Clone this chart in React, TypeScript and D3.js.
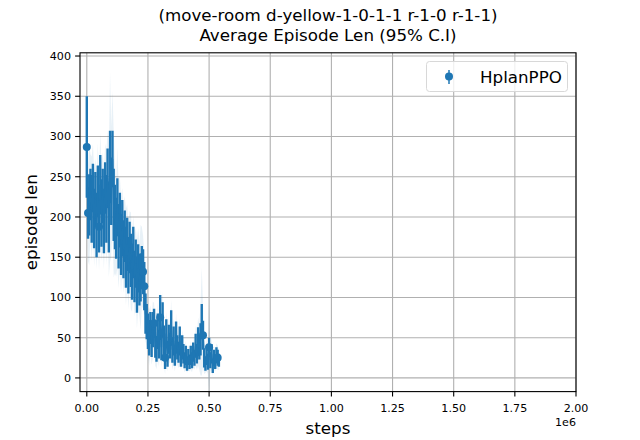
import React from "react";
import * as d3 from "d3";

const steps = [
  0, 5000, 10000, 15000, 20000, 25000, 30000, 35000, 40000, 45000,
  50000, 55000, 60000, 65000, 70000, 75000, 80000, 85000, 90000, 95000,
  100000, 105000, 110000, 115000, 120000, 125000, 130000, 135000, 140000, 145000,
  150000, 155000, 160000, 165000, 170000, 175000, 180000, 185000, 190000, 195000,
  200000, 205000, 210000, 215000, 220000, 225000, 230000, 235000, 240000, 245000,
  250000, 255000, 260000, 265000, 270000, 275000, 280000, 285000, 290000, 295000,
  300000, 305000, 310000, 315000, 320000, 325000, 330000, 335000, 340000, 345000,
  350000, 355000, 360000, 365000, 370000, 375000, 380000, 385000, 390000, 395000,
  400000, 405000, 410000, 415000, 420000, 425000, 430000, 435000, 440000, 445000,
  450000, 455000, 460000, 465000, 470000, 475000, 480000, 485000, 490000, 495000,
  500000, 505000, 510000, 515000, 520000, 525000, 530000, 535000, 540000,
];

const meanLen = [
  287, 205, 215, 228, 210, 236, 198, 222, 190, 232,
  188, 240, 205, 226, 195, 236, 210, 248, 200, 262,
  232, 272, 215, 200, 186, 212, 176, 196, 166, 186,
  160, 176, 150, 166, 140, 162, 146, 132, 156, 126,
  142, 116, 136, 122, 125, 138, 132, 114, 80, 70,
  58, 50, 62, 46, 60, 68, 45, 36, 58, 42,
  75, 38, 72, 45, 25, 55, 30, 48, 40, 62,
  35, 46, 28, 50, 38, 32, 46, 25, 38, 30,
  22, 28, 18, 26, 20, 28, 22, 32, 25, 40,
  30, 45, 38, 48, 70, 53, 25, 18, 28, 20,
  38, 22, 30, 15, 25, 20, 28, 25, 22,
];

const errLen = [
  63, 32, 38, 32, 42, 30, 37, 34, 40, 32,
  32, 37, 42, 34, 40, 32, 42, 37, 44, 45,
  42, 35, 45, 40, 38, 36, 40, 34, 38, 35,
  36, 32, 38, 33, 35, 32, 33, 35, 32, 32,
  30, 35, 30, 32, 30, 26, 28, 30, 25, 22,
  22, 22, 20, 20, 22, 18, 20, 16, 22, 18,
  28, 16, 22, 20, 14, 18, 16, 18, 16, 22,
  16, 18, 13, 20, 15, 13, 18, 11, 15, 12,
  10, 12, 9, 10, 9, 12, 10, 12, 10, 15,
  12, 18, 15, 20, 22, 18, 12, 9, 12, 10,
  12, 10, 12, 9, 10, 9, 10, 10, 8,
];

const bandLen = [
  70, 60, 75, 50, 65, 55, 60, 50, 55, 60,
  55, 65, 60, 55, 60, 55, 70, 60, 75, 118,
  80, 85, 90, 70, 60, 75, 65, 55, 60, 50,
  55, 50, 60, 50, 55, 45, 60, 50, 45, 50,
  45, 55, 50, 45, 65, 50, 45, 40, 35, 30,
  30, 35, 28, 30, 35, 25, 30, 25, 35, 28,
  35, 25, 35, 30, 20, 28, 22, 28, 22, 35,
  25, 28, 20, 30, 22, 20, 28, 15, 22, 18,
  15, 18, 12, 15, 12, 18, 15, 18, 15, 25,
  20, 30, 28, 45, 67, 40, 20, 12, 20, 15,
  60, 15, 20, 12, 15, 12, 15, 15, 12,
];

const markerIdx = [0, 1, 10, 46, 47, 55, 60, 64, 95, 100, 107];

const xTicks = [0, 250000, 500000, 750000, 1000000, 1250000, 1500000, 1750000, 2000000];
const xTickLabels = ["0.00", "0.25", "0.50", "0.75", "1.00", "1.25", "1.50", "1.75", "2.00"];
const yTicks = [0, 50, 100, 150, 200, 250, 300, 350, 400];

const titleLines = ["(move-room d-yellow-1-0-1-1 r-1-0 r-1-1)", "Average Episode Len (95% C.I)"];
const seriesName = "HplanPPO";

const W = 640;
const H = 440;
const M = { left: 80, right: 576, top: 52.8, bottom: 391.6 };
const BLUE = "#1f77b4";
const FONT = "DejaVu Sans, sans-serif";

export default function App() {
  const x = d3.scaleLinear().domain([-27800, 2000000]).range([M.left, M.right]);
  const y = d3.scaleLinear().domain([-17, 404]).range([M.bottom, M.top]);

  const pts = steps.map((s, i) => ({ s, m: meanLen[i], e: errLen[i], b: bandLen[i] }));

  const area = d3
    .area<{ s: number; m: number; b: number }>()
    .x((d) => x(d.s))
    .y0((d) => y(d.m - d.b))
    .y1((d) => y(d.m + d.b));
  const line = d3
    .line<{ s: number; m: number }>()
    .x((d) => x(d.s))
    .y((d) => y(d.m));

  return (
    <svg width={W} height={H} style={{ position: "absolute", left: 0, top: 0, background: "#fff" }} fontFamily={FONT}>
      <rect x={0} y={0} width={W} height={H} fill="#fff" />
      <defs>
        <clipPath id="plotclip">
          <rect x={M.left} y={M.top} width={M.right - M.left} height={M.bottom - M.top} />
        </clipPath>
      </defs>
      {xTicks.map((t) => (
        <line key={"gx" + t} x1={x(t)} x2={x(t)} y1={M.top} y2={M.bottom} stroke="#b0b0b0" strokeWidth={1.1} />
      ))}
      {yTicks.map((t) => (
        <line key={"gy" + t} x1={M.left} x2={M.right} y1={y(t)} y2={y(t)} stroke="#b0b0b0" strokeWidth={1.1} />
      ))}
      <g clipPath="url(#plotclip)">
        <path d={area(pts) || ""} fill={BLUE} fillOpacity={0.1} stroke="none" />
        {pts.map((d, i) => (
          <line key={"e" + i} x1={x(d.s)} x2={x(d.s)} y1={y(d.m - d.e)} y2={y(d.m + d.e)} stroke={BLUE} strokeWidth={2.4} />
        ))}
        <path d={line(pts) || ""} fill="none" stroke={BLUE} strokeWidth={1.5} />
        {markerIdx.map((i) => (
          <circle key={"mk" + i} cx={x(steps[i])} cy={y(meanLen[i])} r={4} fill={BLUE} />
        ))}
      </g>
      <rect x={M.left} y={M.top} width={M.right - M.left} height={M.bottom - M.top} fill="none" stroke="#000" strokeWidth={1.1} />
      {xTicks.map((t, i) => (
        <g key={"xt" + t}>
          <line x1={x(t)} x2={x(t)} y1={M.bottom} y2={M.bottom + 4.9} stroke="#000" strokeWidth={1.1} />
          <text x={x(t)} y={M.bottom + 20} textAnchor="middle" fontSize={11.1} fill="#000">
            {xTickLabels[i]}
          </text>
        </g>
      ))}
      {yTicks.map((t) => (
        <g key={"yt" + t}>
          <line x1={M.left - 4.9} x2={M.left} y1={y(t)} y2={y(t)} stroke="#000" strokeWidth={1.1} />
          <text x={M.left - 9} y={y(t)} dy="0.35em" textAnchor="end" fontSize={11.1} fill="#000">
            {t}
          </text>
        </g>
      ))}
      <text x={M.right} y={426} textAnchor="end" fontSize={11.1} fill="#000">1e6</text>
      <text x={(M.left + M.right) / 2} y={434} textAnchor="middle" fontSize={16.7} fill="#000">steps</text>
      <text
        transform={`translate(37, ${(M.top + M.bottom) / 2}) rotate(-90)`}
        textAnchor="middle"
        fontSize={16.7}
        fill="#000"
      >
        episode len
      </text>
      <text x={(M.left + M.right) / 2} y={21} textAnchor="middle" fontSize={16.7} fill="#000">{titleLines[0]}</text>
      <text x={(M.left + M.right) / 2} y={40.5} textAnchor="middle" fontSize={16.7} fill="#000">{titleLines[1]}</text>
      <g>
        <rect x={426.5} y={61.5} width={141} height={30} rx={3} fill="#fff" fillOpacity={0.8} stroke="#d8d8d8" strokeWidth={1} />
        <line x1={449} x2={449} y1={70} y2={84} stroke={BLUE} strokeWidth={1.5} />
        <circle cx={449} cy={76.5} r={4} fill={BLUE} />
        <text x={480} y={82.5} fontSize={16.7} fill="#000">{seriesName}</text>
      </g>
    </svg>
  );
}
